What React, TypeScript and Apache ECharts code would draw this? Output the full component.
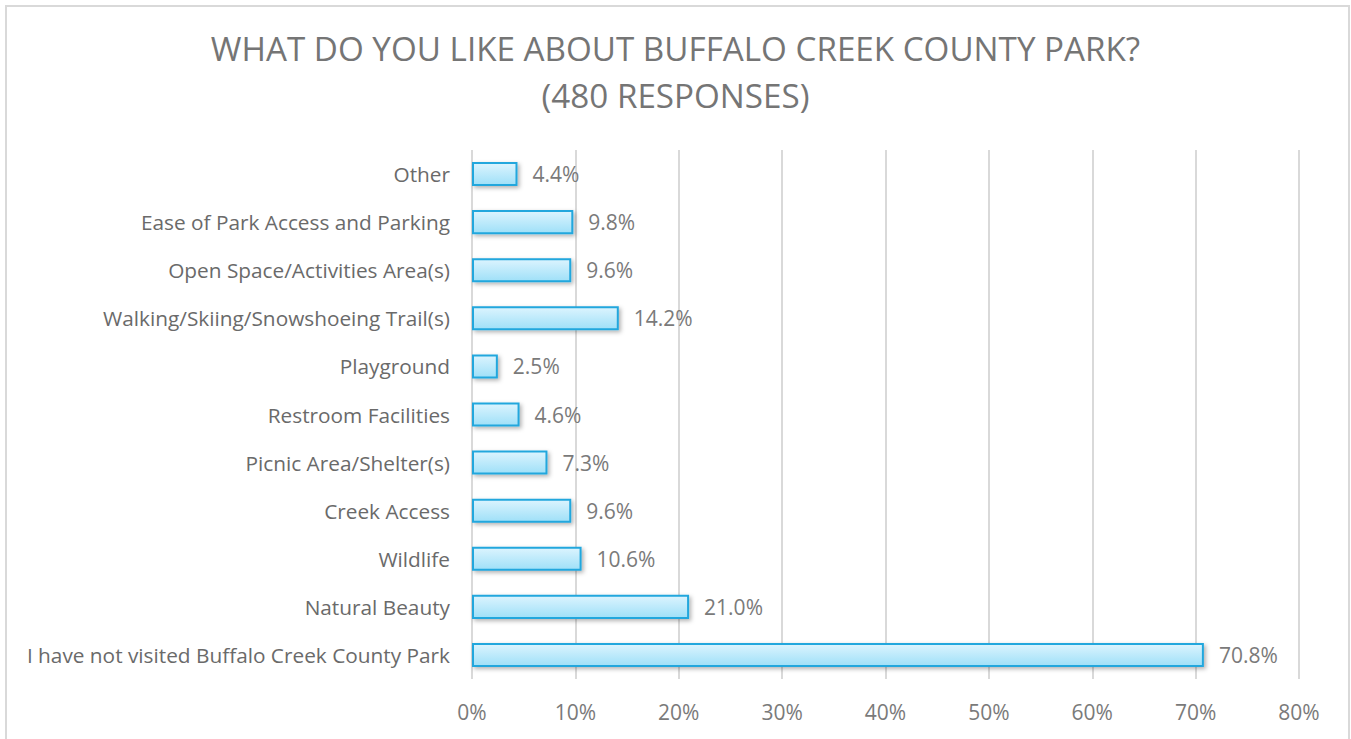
import React, { useEffect, useRef } from "react";
import * as echarts from "echarts";

const categories = [
  "I have not visited Buffalo Creek County Park",
  "Natural Beauty",
  "Wildlife",
  "Creek Access",
  "Picnic Area/Shelter(s)",
  "Restroom Facilities",
  "Playground",
  "Walking/Skiing/Snowshoeing Trail(s)",
  "Open Space/Activities Area(s)",
  "Ease of Park Access and Parking",
  "Other",
];
const values = [70.8, 21.0, 10.6, 9.6, 7.3, 4.6, 2.5, 14.2, 9.6, 9.8, 4.4];
const titleLines = ["WHAT DO YOU LIKE ABOUT BUFFALO CREEK COUNTY PARK?", "(480 RESPONSES)"];

const FONT = "'Open Sans', 'Noto Sans', sans-serif";

export default function App() {
  const ref = useRef<HTMLDivElement>(null);
  useEffect(() => {
    if (!ref.current) return;
    const chart = echarts.init(ref.current, undefined, { renderer: "svg" });
    chart.setOption({
      animation: false,
      backgroundColor: "#ffffff",
      graphic: [
        {
          type: "rect",
          shape: { x: 6, y: 6, width: 1343, height: 760 },
          style: { fill: "none", stroke: "#d9d9d9", lineWidth: 2 },
          silent: true,
        },
      ],
      title: {
        text: titleLines.join("\n"),
        left: "center",
        top: 20,
        textStyle: {
          fontFamily: FONT,
          fontSize: 33.2,
          fontWeight: "normal",
          color: "#757575",
          lineHeight: 47,
        },
      },
      grid: { left: 472, right: 52, top: 150, bottom: 60, containLabel: false },
      xAxis: {
        type: "value",
        min: 0,
        max: 80,
        interval: 10,
        axisLine: { show: false },
        axisTick: { show: false },
        splitLine: { show: true, lineStyle: { color: "#d9d9d9", width: 2 } },
        axisLabel: {
          formatter: "{value}%",
          fontFamily: FONT,
          fontSize: 21,
          color: "#7a7a7a",
          margin: 22,
        },
      },
      yAxis: {
        type: "category",
        data: categories,
        axisLine: { show: false },
        axisTick: { show: false },
        axisLabel: {
          fontFamily: FONT,
          fontSize: 20.8,
          color: "#6a6a6a",
          margin: 22,
        },
      },
      series: [
        {
          type: "bar",
          data: values,
          barCategoryGap: "50%",
          itemStyle: {
            color: new echarts.graphic.LinearGradient(0, 0, 0, 1, [
              { offset: 0, color: "#dcf4fe" },
              { offset: 1, color: "#9fe0f8" },
            ]),
            borderColor: "#22a7dd",
            borderWidth: 2,
            shadowColor: "rgba(0,0,0,0.3)",
            shadowBlur: 4,
            shadowOffsetX: 2,
            shadowOffsetY: 2,
          },
          label: {
            show: true,
            position: "right",
            distance: 15,
            formatter: (p: any) => p.value.toFixed(1) + "%",
            fontFamily: FONT,
            fontSize: 21,
            color: "#7a7a7a",
          },
        },
      ],
    });
    return () => chart.dispose();
  }, []);
  return (
    <div
      ref={ref}
      style={{ position: "fixed", left: 0, top: 0, width: 1351, height: 739 }}
    />
  );
}
